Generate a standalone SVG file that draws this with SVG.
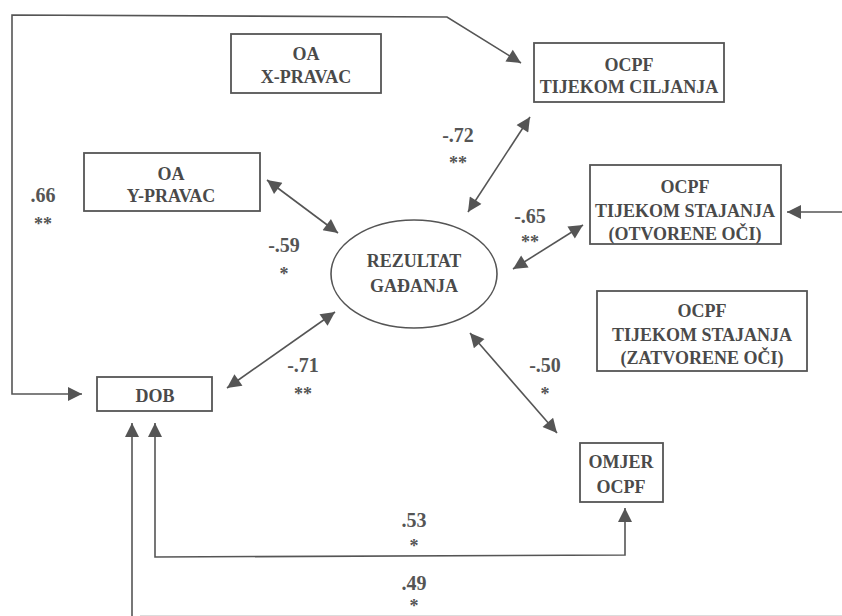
<svg xmlns="http://www.w3.org/2000/svg" width="842" height="616" viewBox="0 0 842 616">
<style>
.box{fill:#fff;stroke:#555;stroke-width:1.8}
.ell{fill:#fff;stroke:#555;stroke-width:1.6}
.t{font-family:"Liberation Serif","DejaVu Serif",serif;font-weight:bold;font-size:18px;fill:#4a4a4a;text-anchor:middle}
.n{font-family:"Liberation Serif","DejaVu Serif",serif;font-weight:bold;font-size:20px;fill:#555;text-anchor:middle}
.s{font-family:"Liberation Serif","DejaVu Serif",serif;font-weight:bold;font-size:18px;fill:#555;text-anchor:middle}
.c{fill:none;stroke:#555;stroke-width:1.6}
</style>
<defs>
<marker id="ah" viewBox="0 0 10 10" refX="10" refY="5" markerUnits="userSpaceOnUse" markerWidth="17" markerHeight="14" orient="auto-start-reverse">
<path d="M0,0 L10,5 L0,10 z" fill="#555"/>
</marker>
</defs>
<rect width="842" height="616" fill="#fff"/>
<g id="connectors">
<path class="c" d="M82,394 L12,394 L12,15 L447,17 L521,63" marker-start="url(#ah)" marker-end="url(#ah)"/>
<line class="c" x1="468" y1="212" x2="530" y2="117" marker-start="url(#ah)" marker-end="url(#ah)"/>
<line class="c" x1="513" y1="269" x2="583" y2="225" marker-start="url(#ah)" marker-end="url(#ah)"/>
<line class="c" x1="267" y1="180" x2="338" y2="233" marker-start="url(#ah)" marker-end="url(#ah)"/>
<line class="c" x1="227" y1="388" x2="335" y2="312" marker-start="url(#ah)" marker-end="url(#ah)"/>
<line class="c" x1="470" y1="333" x2="557" y2="433" marker-start="url(#ah)" marker-end="url(#ah)"/>
<line class="c" x1="842" y1="212" x2="787" y2="212" marker-end="url(#ah)"/>
<path class="c" d="M155,423 L155,557 L625,555 L625,508" marker-start="url(#ah)" marker-end="url(#ah)"/>
<path class="c" d="M132,616 L132,423" marker-end="url(#ah)"/>
<line x1="140" y1="615.5" x2="842" y2="615.5" stroke="#dcdcdc" stroke-width="1"/>
</g>
<g id="oa-x">
<rect class="box" x="231" y="34" width="150" height="59"/>
<text class="t" x="306" y="60">OA</text>
<text class="t" x="306" y="83">X-PRAVAC</text>
</g>
<g id="oa-y">
<rect class="box" x="84" y="153" width="176" height="58"/>
<text class="t" x="171" y="180">OA</text>
<text class="t" x="171" y="202">Y-PRAVAC</text>
</g>
<g id="ocpf-ciljanja">
<rect class="box" x="534" y="43" width="190" height="59"/>
<text class="t" x="629" y="71">OCPF</text>
<text class="t" x="629" y="93">TIJEKOM CILJANJA</text>
</g>
<g id="ocpf-otvorene">
<rect class="box" x="590" y="165" width="191" height="79"/>
<text class="t" x="685" y="193">OCPF</text>
<text class="t" x="685" y="217">TIJEKOM STAJANJA</text>
<text class="t" x="685" y="240">(OTVORENE OČI)</text>
</g>
<g id="ocpf-zatvorene">
<rect class="box" x="597" y="291" width="210" height="80"/>
<text class="t" x="702" y="317">OCPF</text>
<text class="t" x="702" y="341">TIJEKOM STAJANJA</text>
<text class="t" x="702" y="364">(ZATVORENE OČI)</text>
</g>
<g id="rezultat">
<ellipse class="ell" cx="414" cy="274" rx="83" ry="54"/>
<text class="t" x="414" y="267">REZULTAT</text>
<text class="t" x="414" y="292">GAĐANJA</text>
</g>
<g id="dob">
<rect class="box" x="97" y="377" width="115" height="34"/>
<text class="t" x="155" y="402">DOB</text>
</g>
<g id="omjer">
<rect class="box" x="580" y="443" width="83" height="59"/>
<text class="t" x="621" y="468">OMJER</text>
<text class="t" x="621" y="493">OCPF</text>
</g>
<g id="labels">
<text class="n" x="43" y="202">.66</text><text class="s" x="43" y="230">**</text>
<text class="n" x="284" y="252">-.59</text><text class="s" x="284" y="280">*</text>
<text class="n" x="303" y="372">-.71</text><text class="s" x="303" y="400">**</text>
<text class="n" x="458" y="142">-.72</text><text class="s" x="458" y="169">**</text>
<text class="n" x="530" y="223">-.65</text><text class="s" x="530" y="248">**</text>
<text class="n" x="545" y="372">-.50</text><text class="s" x="545" y="400">*</text>
<text class="n" x="414" y="527">.53</text><text class="s" x="414" y="552">*</text>
<text class="n" x="414" y="590">.49</text><text class="s" x="414" y="612">*</text>
</g>
</svg>
